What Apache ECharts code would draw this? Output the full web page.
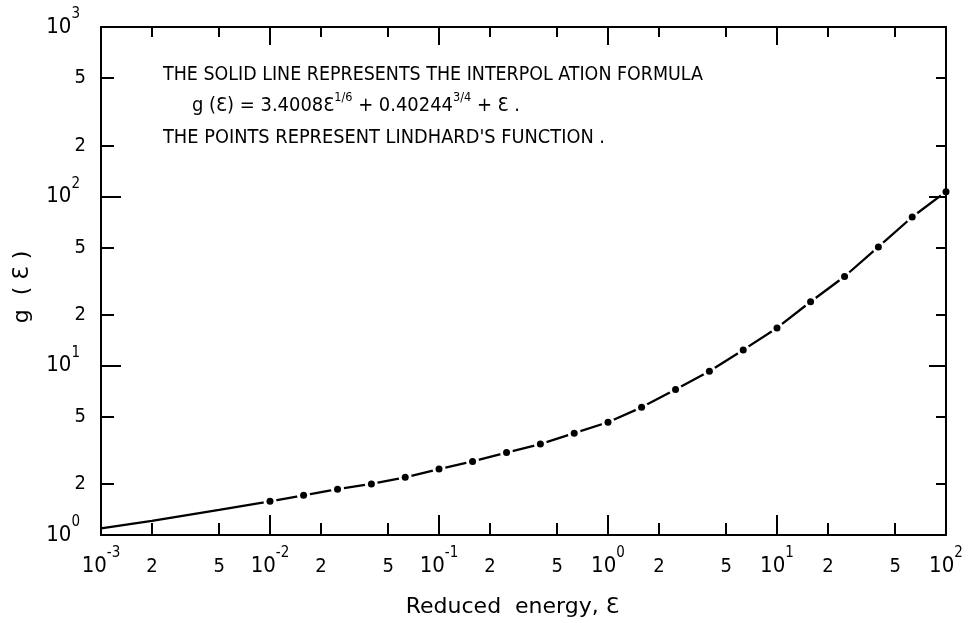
<!DOCTYPE html>
<html>
<head>
<meta charset="utf-8">
<script src="https://cdn.jsdelivr.net/npm/echarts@6/dist/echarts.min.js"></script>
<style>
html,body{margin:0;padding:0;background:#fff;}
#chart{width:971px;height:623px;}
</style>
</head>
<body>
<div id="chart"></div>
<script>
// ---------- data ----------
// solid line: interpolation formula
const lineEnergy = [0.001, 0.002, 0.005, 0.01, 0.0158, 0.0251, 0.0398, 0.0631, 0.1, 0.158, 0.251, 0.398, 0.631, 1, 1.58, 2.51, 3.98, 6.31, 10, 15.8, 25.1, 39.8, 63.1, 100];
const lineG      = [1.095, 1.212, 1.408, 1.58, 1.715, 1.866, 2.004, 2.192, 2.451, 2.719, 3.066, 3.441, 3.993, 4.631, 5.673, 7.233, 9.28, 12.39, 16.70, 23.85, 33.62, 50.24, 75.5, 106.6];
// points: Lindhard's function
const pointEnergy = [0.01, 0.0158, 0.0251, 0.0398, 0.0631, 0.1, 0.158, 0.251, 0.398, 0.631, 1, 1.58, 2.51, 3.98, 6.31, 10, 15.8, 25.1, 39.8, 63.1, 100];
const pointG      = [1.58, 1.715, 1.866, 2.004, 2.192, 2.451, 2.719, 3.066, 3.441, 3.993, 4.631, 5.673, 7.233, 9.28, 12.39, 16.70, 23.85, 33.62, 50.24, 75.5, 106.6];
// ticks
const xMajorTicks = [0.001, 0.01, 0.1, 1, 10, 100];
const xMinorTicks = [0.002, 0.005, 0.02, 0.05, 0.2, 0.5, 2, 5, 20, 50];
const yMajorTicks = [1, 10, 100, 1000];
const yMinorTicks = [2, 5, 20, 50, 200, 500];
// texts
const xTitle = 'Reduced  energy, Ɛ';
const yTitle = 'g  ( Ɛ )';
const noteLine1 = 'THE SOLID LINE REPRESENTS THE INTERPOL ATION FORMULA';
const noteLine2 = 'g (Ɛ) = 3.4008Ɛ{s|1/6} + 0.40244{s|3/4} + Ɛ .';
const noteLine3 = "THE POINTS REPRESENT LINDHARD'S FUNCTION .";

// ---------- chart ----------
const FONT = "'Liberation Sans Narrow', 'DejaVu Sans Condensed', 'Liberation Sans', sans-serif";
const TITLE_FONT = "'DejaVu Sans', sans-serif";
const X_MIN = 0.001, X_MAX = 100, Y_MIN = 1, Y_MAX = 1000;

const powLabel = v => '{b|10}{s|' + Math.round(Math.log10(v)) + '}';
const mantLabel = v => String(Math.round(v / Math.pow(10, Math.floor(Math.log10(v) + 1e-9))));

const richMajorX = {
  b: { fontSize: 22, lineHeight: 40, fontFamily: FONT, color: '#000' },
  s: { fontSize: 15, lineHeight: 16, verticalAlign: 'top', fontFamily: FONT, color: '#000' }
};
const richMajorY = {
  b: { fontSize: 22, lineHeight: 40, fontFamily: FONT, color: '#000' },
  s: { fontSize: 15, lineHeight: 24, verticalAlign: 'top', fontFamily: FONT, color: '#000' }
};

function logAxis(common) {
  return Object.assign({
    type: 'log', logBase: 10, gridIndex: 0, z: 3,
    axisLine: { show: true, onZero: false, lineStyle: { color: '#000', width: 2 } },
    splitLine: { show: false }, minorTick: { show: false }, minorSplitLine: { show: false },
    axisPointer: { show: false }
  }, common);
}

const xAxes = [
  logAxis({ position: 'bottom', min: X_MIN, max: X_MAX,
    axisTick: { show: true, inside: true, length: 20, customValues: xMajorTicks, lineStyle: { color: '#000', width: 2 } },
    axisLabel: { show: true, customValues: xMajorTicks, margin: 11, formatter: powLabel, rich: richMajorX },
    name: xTitle, nameLocation: 'middle', nameGap: 61,
    nameTextStyle: { fontSize: 22, fontFamily: TITLE_FONT, color: '#000', padding: [0, 22, 0, 0] }
  }),
  logAxis({ position: 'bottom', min: X_MIN, max: X_MAX,
    axisLine: { show: false, onZero: false },
    axisTick: { show: true, inside: true, length: 12, customValues: xMinorTicks, lineStyle: { color: '#000', width: 2 } },
    axisLabel: { show: true, customValues: xMinorTicks, margin: 22, formatter: mantLabel,
      fontSize: 20, lineHeight: 20, fontFamily: FONT, color: '#000' }
  }),
  logAxis({ position: 'top', min: X_MIN, max: X_MAX,
    axisTick: { show: true, inside: true, length: 18, customValues: xMajorTicks, lineStyle: { color: '#000', width: 2 } },
    axisLabel: { show: false }
  }),
  logAxis({ position: 'top', min: X_MIN, max: X_MAX,
    axisLine: { show: false, onZero: false },
    axisTick: { show: true, inside: true, length: 10, customValues: xMinorTicks, lineStyle: { color: '#000', width: 2 } },
    axisLabel: { show: false }
  })
];

const yAxes = [
  logAxis({ position: 'left', min: Y_MIN, max: Y_MAX,
    axisTick: { show: true, inside: true, length: 20, customValues: yMajorTicks, lineStyle: { color: '#000', width: 2 } },
    axisLabel: { show: true, customValues: yMajorTicks, margin: 21, formatter: powLabel, rich: richMajorY },
    name: yTitle, nameLocation: 'middle', nameGap: 68, nameRotate: 90,
    nameTextStyle: { fontSize: 22, fontFamily: TITLE_FONT, color: '#000', padding: [0, 12, 0, 0] }
  }),
  logAxis({ position: 'left', min: Y_MIN, max: Y_MAX,
    axisLine: { show: false, onZero: false },
    axisTick: { show: true, inside: true, length: 13, customValues: yMinorTicks, lineStyle: { color: '#000', width: 2 } },
    axisLabel: { show: true, customValues: yMinorTicks, margin: 15, formatter: mantLabel,
      fontSize: 20, fontFamily: FONT, color: '#000' }
  }),
  logAxis({ position: 'right', min: Y_MIN, max: Y_MAX,
    axisTick: { show: true, inside: true, length: 17, customValues: yMajorTicks, lineStyle: { color: '#000', width: 2 } },
    axisLabel: { show: false }
  }),
  logAxis({ position: 'right', min: Y_MIN, max: Y_MAX,
    axisLine: { show: false, onZero: false },
    axisTick: { show: true, inside: true, length: 10, customValues: yMinorTicks, lineStyle: { color: '#000', width: 2 } },
    axisLabel: { show: false }
  })
];

// fit the annotation lines to their widths in the picture
const cv = document.createElement('canvas').getContext('2d');
function textWidth(t, size) { cv.font = size + 'px ' + FONT; return cv.measureText(t).width; }
const NOTE_SIZE = 19, SUP_SIZE = 12;
function richWidth(t) {
  let w = 0; const re = /\{s\|([^}]*)\}/g; let last = 0, m;
  while ((m = re.exec(t)) !== null) {
    w += textWidth(t.slice(last, m.index), NOTE_SIZE) + textWidth(m[1], SUP_SIZE);
    last = re.lastIndex;
  }
  return w + textWidth(t.slice(last), NOTE_SIZE);
}
function noteText(t, x, y, targetW) {
  const w = richWidth(t);
  return {
    type: 'text', x: x, y: y, scaleX: targetW / w, z: 10,
    style: {
      text: t, fontSize: NOTE_SIZE, fontFamily: FONT, fill: '#000', lineHeight: 28,
      verticalAlign: 'middle', align: 'left',
      rich: { s: { fontSize: SUP_SIZE, lineHeight: 13, verticalAlign: 'top', fontFamily: FONT, fill: '#000' } }
    }
  };
}

const chart = echarts.init(document.getElementById('chart'), null, { renderer: 'canvas' });
chart.setOption({
  backgroundColor: '#fff',
  animation: false,
  grid: { left: 101, right: 25, top: 27, bottom: 88, containLabel: false },
  xAxis: xAxes,
  yAxis: yAxes,
  graphic: [
    noteText(noteLine1, 163, 75, 540),
    noteText(noteLine2, 192, 106, 328),
    noteText(noteLine3, 163, 138, 442)
  ],
  series: [
    { type: 'line', xAxisIndex: 0, yAxisIndex: 0, z: 1, silent: true,
      data: lineEnergy.map((e, i) => [e, lineG[i]]),
      showSymbol: false, symbol: 'none',
      lineStyle: { color: '#000', width: 2.3 } },
    { type: 'scatter', xAxisIndex: 0, yAxisIndex: 0, z: 2, silent: true,
      data: pointEnergy.map((e, i) => [e, pointG[i]]),
      symbol: 'circle', symbolSize: 13, itemStyle: { color: '#fff', opacity: 1 } },
    { type: 'scatter', xAxisIndex: 0, yAxisIndex: 0, z: 4, silent: true,
      data: pointEnergy.map((e, i) => [e, pointG[i]]),
      symbol: 'circle', symbolSize: 7, itemStyle: { color: '#000', opacity: 1 } }
  ]
});
</script>
</body>
</html>
